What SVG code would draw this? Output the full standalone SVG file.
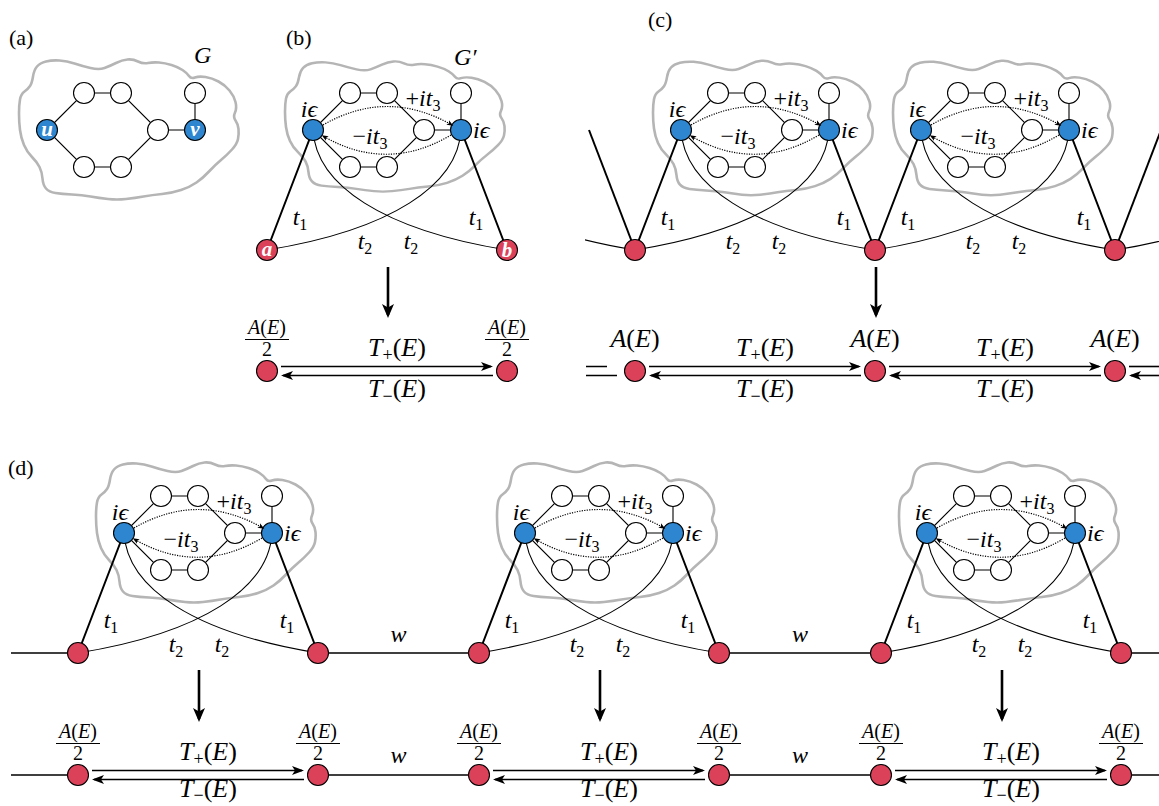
<svg xmlns="http://www.w3.org/2000/svg" xmlns:xlink="http://www.w3.org/1999/xlink" width="1159" height="806" viewBox="0 0 1159 806">
<style>
.cl{fill:none;stroke:#b5b5b5;stroke-width:2.6;stroke-linejoin:round}
.e{stroke:#000;stroke-width:1.1;fill:none}
.th{stroke:#000;stroke-width:2;fill:none}
.dt{stroke:#000;stroke-width:1.2;fill:none;stroke-dasharray:1.2 1.3}
.w{fill:#fff;stroke:#000;stroke-width:1.1}
.bl{fill:#2d86cf;stroke:#000;stroke-width:1.1}
.rd{fill:#dc415a;stroke:#000;stroke-width:1.1}
.ln{stroke:#000;stroke-width:1.6;fill:none}
.ar{stroke:#000;stroke-width:1.6;fill:none;marker-end:url(#ha)}
.dn{stroke:#000;stroke-width:2.6;fill:none;marker-end:url(#hd)}
.fb{stroke:#000;stroke-width:1}
text{font-family:"Liberation Serif","DejaVu Serif",serif;fill:#000}
.m{font-style:italic;font-size:24px}
.b{font-size:26px}
.f{font-size:20px}
.r{font-style:normal}
.s{font-style:normal;font-size:16px}
.s2{font-style:normal;font-size:18px}
.lab{font-size:22px}
.wl{fill:#fff;font-weight:bold;font-style:italic;font-size:21px}
</style>
<defs>
<marker id="ha" markerUnits="userSpaceOnUse" markerWidth="14" markerHeight="10" refX="10" refY="4.5" orient="auto" overflow="visible"><path d="M12,4.5 L0,0 L3,4.5 L0,9 Z" fill="#000"/></marker>
<marker id="hd" markerUnits="userSpaceOnUse" markerWidth="16" markerHeight="14" refX="11" refY="6" orient="auto" overflow="visible"><path d="M14,6 L0,0 L3.5,6 L0,12 Z" fill="#000"/></marker>
<marker id="hs" markerUnits="userSpaceOnUse" markerWidth="8" markerHeight="6" refX="5" refY="2.7" orient="auto" overflow="visible"><path d="M6.5,2.7 L0,0 L1.6,2.7 L0,5.4 Z" fill="#000"/></marker>
<clipPath id="clipc"><rect x="585" y="100" width="80" height="200"/></clipPath>
<path id="cloud" class="cl" d="M-17,-44 Q-15,-47 -14,-53.5 Q-13,-60 -10,-63.5 Q-7,-67 -1,-68.5 Q5,-70 12.5,-69.5 Q20,-69 27.5,-66.5 Q35,-64 43.5,-62 Q52,-60 57.5,-62 Q63,-64 69,-67 Q75,-70 80.5,-70.5 Q86,-71 91,-68.5 Q96,-66 101,-67 Q106,-68 112,-67.5 Q118,-67 124.5,-65 Q131,-63 135.5,-60 Q140,-57 142,-54 Q144,-51 148,-52.5 Q152,-54 158.5,-53 Q165,-52 171.5,-48.5 Q178,-45 182.5,-39.5 Q187,-34 188.5,-28 Q190,-22 188,-17.5 Q186,-13 188.5,-9.5 Q191,-6 191.5,-1 Q192,4 191,9 Q190,14 185,19.5 Q180,25 174,30 Q168,35 162,41.5 Q156,48 149.5,52.5 Q143,57 134,60 Q125,63 115,64 Q105,65 96.5,66.5 Q88,68 79,69 Q70,70 61,69 Q52,68 43.5,66.5 Q35,65 25,64.5 Q15,64 8.5,63 Q2,62 -1,58.5 Q-4,55 -4.5,48.5 Q-5,42 -7.5,37 Q-10,32 -15,27 Q-20,22 -23,15 Q-26,8 -27,0 Q-28,-8 -28,-16.5 Q-28,-25 -27,-30.5 Q-26,-36 -22.5,-38.5 Q-19,-41 -17,-44 Z"/>
<g id="graph">
<path class="e" d="M0,0 L37,-37 L74,-37 L111,0 L74,37 L37,37 Z M111,0 L148,0 L148,-37"/>
<circle class="w" cx="37" cy="-37" r="10.5"/>
<circle class="w" cx="74" cy="-37" r="10.5"/>
<circle class="w" cx="111" cy="0" r="10.5"/>
<circle class="w" cx="148" cy="-37" r="10.5"/>
<circle class="w" cx="37" cy="37" r="10.5"/>
<circle class="w" cx="74" cy="37" r="10.5"/>
<circle class="bl" cx="0" cy="0" r="10.5"/>
<circle class="bl" cx="148" cy="0" r="10.5"/>
</g>
<g id="links">
<path class="th" d="M0,0 L-46,120 M148,0 L194,120"/>
<path class="e" d="M0,0 C3,55 70,100 194,120 M148,0 C145,55 78,100 -46,120"/>
</g>
<g id="arcs">
<path class="dt" d="M10,-5 Q74,-42 139,-5" marker-end="url(#hs)"/>
<path class="dt" d="M138,5 Q74,43 10,6" marker-end="url(#hs)"/>
</g>
</defs>

<g id="panel-a">
<text class="lab" x="9" y="45">(a)</text>
<text class="m" x="194" y="63">G</text>
<g id="graph-G" transform="translate(47,130)">
<use href="#cloud"/><use href="#graph"/>
<text class="wl" x="0" y="5.5" text-anchor="middle">u</text>
<text class="wl" x="148" y="5.5" text-anchor="middle">v</text>
</g>
</g>

<g id="panel-b">
<text class="lab" x="286" y="45">(b)</text>
<text class="m" x="454" y="65">G′</text>
<g id="gadget-b" transform="translate(313,130)">
<use href="#cloud" transform="translate(0,-3) scale(1,0.93)"/><use href="#links"/><use href="#graph"/><use href="#arcs"/>
<text class="m" x="-4" y="-13" text-anchor="middle">iϵ</text>
<text class="m" x="160" y="8">iϵ</text>
<text class="m" x="110" y="-24" text-anchor="middle"><tspan class="r">+</tspan>it<tspan class="s" dy="5">3</tspan></text>
<text class="m" x="57" y="14" text-anchor="middle"><tspan class="r">−</tspan>it<tspan class="s" dy="5">3</tspan></text>
<text class="m" x="-13" y="95" text-anchor="middle">t<tspan class="s" dy="5">1</tspan></text>
<text class="m" x="163" y="95" text-anchor="middle">t<tspan class="s" dy="5">1</tspan></text>
<text class="m" x="52" y="119" text-anchor="middle">t<tspan class="s" dy="5">2</tspan></text>
<text class="m" x="98" y="119" text-anchor="middle">t<tspan class="s" dy="5">2</tspan></text>
</g>
<g id="node-a"><circle class="rd" cx="267" cy="250" r="10.5"/><text class="wl" x="267" y="256" text-anchor="middle">a</text></g>
<g id="node-b"><circle class="rd" cx="507" cy="250" r="10.5"/><text class="wl" x="507" y="257" text-anchor="middle">b</text></g>
</g>

<g id="connectors">
<path class="dn" d="M388,267 L388,315"/>
<path class="dn" d="M876,267 L876,315"/>
<path class="dn" d="M199,670 L199,719"/>
<path class="dn" d="M600,670 L600,719"/>
<path class="dn" d="M1002,670 L1002,719"/>
<path class="ar" d="M281,366.5 L491,366.5"/>
<path class="ar" d="M493,375.5 L283,375.5"/>
<path class="ln" d="M586,366.5 L607,366.5 M586,375.5 L617,375.5"/>
<path class="ar" d="M649,366.5 L859,366.5"/>
<path class="ar" d="M861,375.5 L651,375.5"/>
<path class="ar" d="M889,366.5 L1099,366.5"/>
<path class="ar" d="M1101,375.5 L891,375.5"/>
<path class="ln" d="M1129,366.5 L1159,366.5"/>
<path class="ar" d="M1160,375.5 L1131,375.5"/>
<path class="ln" d="M11,653 L78,653 M318,653 L479,653 M719,653 L881,653 M1121,653 L1159,653"/>
<path class="ln" d="M11,775 L78,775 M318,775 L479,775 M719,775 L881,775 M1121,775 L1159,775"/>
<path class="ar" d="M92,770.5 L302,770.5"/>
<path class="ar" d="M304,779.5 L94,779.5"/>
<path class="ar" d="M493,770.5 L703,770.5"/>
<path class="ar" d="M705,779.5 L495,779.5"/>
<path class="ar" d="M895,770.5 L1105,770.5"/>
<path class="ar" d="M1107,779.5 L897,779.5"/>
<g clip-path="url(#clipc)">
<path class="th" d="M589,130 L635,250"/>
<path class="e" d="M441,130 C444,185 511,230 635,250"/>
</g>
<path class="th" d="M1161,130 L1115,250"/>
<path class="e" d="M1309,130 C1306,185 1239,230 1115,250"/>
</g>

<g id="panel-b-bottom">
<g id="node-b1"><circle class="rd" cx="267" cy="371" r="10.5"/>
<text class="m f" x="267" y="334" text-anchor="middle">A<tspan class="r">(</tspan>E<tspan class="r">)</tspan></text>
<line class="fb" x1="245" y1="339.5" x2="289" y2="339.5"/>
<text class="f" x="267" y="356" text-anchor="middle">2</text></g>
<g id="node-b2"><circle class="rd" cx="507" cy="371" r="10.5"/>
<text class="m f" x="507" y="334" text-anchor="middle">A<tspan class="r">(</tspan>E<tspan class="r">)</tspan></text>
<line class="fb" x1="485" y1="339.5" x2="529" y2="339.5"/>
<text class="f" x="507" y="356" text-anchor="middle">2</text></g>
<text class="m b" x="397" y="356" text-anchor="middle">T<tspan class="s2" dy="5">+</tspan><tspan class="r" dy="-5">(</tspan>E<tspan class="r">)</tspan></text>
<text class="m b" x="397" y="397" text-anchor="middle">T<tspan class="s2" dy="5">−</tspan><tspan class="r" dy="-5">(</tspan>E<tspan class="r">)</tspan></text>
</g>

<g id="panel-c">
<text class="lab" x="648" y="27">(c)</text>
<g id="gadget-c1" transform="translate(681,130)">
<use href="#cloud" transform="translate(0,-1.5) scale(1,0.96)"/><use href="#links"/><use href="#graph"/><use href="#arcs"/>
<text class="m" x="-4" y="-13" text-anchor="middle">iϵ</text>
<text class="m" x="160" y="8">iϵ</text>
<text class="m" x="110" y="-24" text-anchor="middle"><tspan class="r">+</tspan>it<tspan class="s" dy="5">3</tspan></text>
<text class="m" x="57" y="14" text-anchor="middle"><tspan class="r">−</tspan>it<tspan class="s" dy="5">3</tspan></text>
<text class="m" x="-13" y="95" text-anchor="middle">t<tspan class="s" dy="5">1</tspan></text>
<text class="m" x="163" y="95" text-anchor="middle">t<tspan class="s" dy="5">1</tspan></text>
<text class="m" x="52" y="119" text-anchor="middle">t<tspan class="s" dy="5">2</tspan></text>
<text class="m" x="98" y="119" text-anchor="middle">t<tspan class="s" dy="5">2</tspan></text>
</g>
<g id="gadget-c2" transform="translate(921,130)">
<use href="#cloud" transform="translate(0,-1.5) scale(1,0.96)"/><use href="#links"/><use href="#graph"/><use href="#arcs"/>
<text class="m" x="-4" y="-13" text-anchor="middle">iϵ</text>
<text class="m" x="160" y="8">iϵ</text>
<text class="m" x="110" y="-24" text-anchor="middle"><tspan class="r">+</tspan>it<tspan class="s" dy="5">3</tspan></text>
<text class="m" x="57" y="14" text-anchor="middle"><tspan class="r">−</tspan>it<tspan class="s" dy="5">3</tspan></text>
<text class="m" x="-13" y="95" text-anchor="middle">t<tspan class="s" dy="5">1</tspan></text>
<text class="m" x="163" y="95" text-anchor="middle">t<tspan class="s" dy="5">1</tspan></text>
<text class="m" x="52" y="119" text-anchor="middle">t<tspan class="s" dy="5">2</tspan></text>
<text class="m" x="98" y="119" text-anchor="middle">t<tspan class="s" dy="5">2</tspan></text>
</g>
<g id="node-c1"><circle class="rd" cx="635" cy="250" r="10.5"/></g>
<g id="node-c2"><circle class="rd" cx="875" cy="250" r="10.5"/></g>
<g id="node-c3"><circle class="rd" cx="1115" cy="250" r="10.5"/></g>
<g id="node-c4"><circle class="rd" cx="635" cy="371" r="10.5"/><text class="m b" x="635" y="347" text-anchor="middle">A<tspan class="r">(</tspan>E<tspan class="r">)</tspan></text></g>
<g id="node-c5"><circle class="rd" cx="875" cy="371" r="10.5"/><text class="m b" x="875" y="347" text-anchor="middle">A<tspan class="r">(</tspan>E<tspan class="r">)</tspan></text></g>
<g id="node-c6"><circle class="rd" cx="1115" cy="371" r="10.5"/><text class="m b" x="1115" y="347" text-anchor="middle">A<tspan class="r">(</tspan>E<tspan class="r">)</tspan></text></g>
<text class="m b" x="765" y="356" text-anchor="middle">T<tspan class="s2" dy="5">+</tspan><tspan class="r" dy="-5">(</tspan>E<tspan class="r">)</tspan></text>
<text class="m b" x="765" y="397" text-anchor="middle">T<tspan class="s2" dy="5">−</tspan><tspan class="r" dy="-5">(</tspan>E<tspan class="r">)</tspan></text>
<text class="m b" x="1005" y="356" text-anchor="middle">T<tspan class="s2" dy="5">+</tspan><tspan class="r" dy="-5">(</tspan>E<tspan class="r">)</tspan></text>
<text class="m b" x="1005" y="397" text-anchor="middle">T<tspan class="s2" dy="5">−</tspan><tspan class="r" dy="-5">(</tspan>E<tspan class="r">)</tspan></text>
</g>

<g id="panel-d">
<text class="lab" x="8" y="475">(d)</text>
<g id="gadget-d1" transform="translate(124,533)">
<use href="#cloud"/><use href="#links"/><use href="#graph"/><use href="#arcs"/>
<text class="m" x="-4" y="-13" text-anchor="middle">iϵ</text>
<text class="m" x="160" y="8">iϵ</text>
<text class="m" x="110" y="-24" text-anchor="middle"><tspan class="r">+</tspan>it<tspan class="s" dy="5">3</tspan></text>
<text class="m" x="57" y="14" text-anchor="middle"><tspan class="r">−</tspan>it<tspan class="s" dy="5">3</tspan></text>
<text class="m" x="-13" y="95" text-anchor="middle">t<tspan class="s" dy="5">1</tspan></text>
<text class="m" x="163" y="95" text-anchor="middle">t<tspan class="s" dy="5">1</tspan></text>
<text class="m" x="52" y="119" text-anchor="middle">t<tspan class="s" dy="5">2</tspan></text>
<text class="m" x="98" y="119" text-anchor="middle">t<tspan class="s" dy="5">2</tspan></text>
</g>
<g id="gadget-d2" transform="translate(525,533)">
<use href="#cloud"/><use href="#links"/><use href="#graph"/><use href="#arcs"/>
<text class="m" x="-4" y="-13" text-anchor="middle">iϵ</text>
<text class="m" x="160" y="8">iϵ</text>
<text class="m" x="110" y="-24" text-anchor="middle"><tspan class="r">+</tspan>it<tspan class="s" dy="5">3</tspan></text>
<text class="m" x="57" y="14" text-anchor="middle"><tspan class="r">−</tspan>it<tspan class="s" dy="5">3</tspan></text>
<text class="m" x="-13" y="95" text-anchor="middle">t<tspan class="s" dy="5">1</tspan></text>
<text class="m" x="163" y="95" text-anchor="middle">t<tspan class="s" dy="5">1</tspan></text>
<text class="m" x="52" y="119" text-anchor="middle">t<tspan class="s" dy="5">2</tspan></text>
<text class="m" x="98" y="119" text-anchor="middle">t<tspan class="s" dy="5">2</tspan></text>
</g>
<g id="gadget-d3" transform="translate(927,533)">
<use href="#cloud"/><use href="#links"/><use href="#graph"/><use href="#arcs"/>
<text class="m" x="-4" y="-13" text-anchor="middle">iϵ</text>
<text class="m" x="160" y="8">iϵ</text>
<text class="m" x="110" y="-24" text-anchor="middle"><tspan class="r">+</tspan>it<tspan class="s" dy="5">3</tspan></text>
<text class="m" x="57" y="14" text-anchor="middle"><tspan class="r">−</tspan>it<tspan class="s" dy="5">3</tspan></text>
<text class="m" x="-13" y="95" text-anchor="middle">t<tspan class="s" dy="5">1</tspan></text>
<text class="m" x="163" y="95" text-anchor="middle">t<tspan class="s" dy="5">1</tspan></text>
<text class="m" x="52" y="119" text-anchor="middle">t<tspan class="s" dy="5">2</tspan></text>
<text class="m" x="98" y="119" text-anchor="middle">t<tspan class="s" dy="5">2</tspan></text>
</g>
<g id="node-d1"><circle class="rd" cx="78" cy="653" r="10.5"/></g>
<g id="node-d2"><circle class="rd" cx="318" cy="653" r="10.5"/></g>
<g id="node-d3"><circle class="rd" cx="479" cy="653" r="10.5"/></g>
<g id="node-d4"><circle class="rd" cx="719" cy="653" r="10.5"/></g>
<g id="node-d5"><circle class="rd" cx="881" cy="653" r="10.5"/></g>
<g id="node-d6"><circle class="rd" cx="1121" cy="653" r="10.5"/></g>
<text class="m" x="398.5" y="641.5" text-anchor="middle">w</text>
<text class="m" x="800" y="641.5" text-anchor="middle">w</text>
<text class="m" x="398.5" y="763" text-anchor="middle">w</text>
<text class="m" x="800" y="763" text-anchor="middle">w</text>
<g id="node-d7"><circle class="rd" cx="78" cy="775" r="10.5"/><text class="m f" x="78" y="738" text-anchor="middle">A<tspan class="r">(</tspan>E<tspan class="r">)</tspan></text><line class="fb" x1="56" y1="743.5" x2="100" y2="743.5"/><text class="f" x="78" y="760" text-anchor="middle">2</text></g>
<g id="node-d8"><circle class="rd" cx="318" cy="775" r="10.5"/><text class="m f" x="318" y="738" text-anchor="middle">A<tspan class="r">(</tspan>E<tspan class="r">)</tspan></text><line class="fb" x1="296" y1="743.5" x2="340" y2="743.5"/><text class="f" x="318" y="760" text-anchor="middle">2</text></g>
<g id="node-d9"><circle class="rd" cx="479" cy="775" r="10.5"/><text class="m f" x="479" y="738" text-anchor="middle">A<tspan class="r">(</tspan>E<tspan class="r">)</tspan></text><line class="fb" x1="457" y1="743.5" x2="501" y2="743.5"/><text class="f" x="479" y="760" text-anchor="middle">2</text></g>
<g id="node-d10"><circle class="rd" cx="719" cy="775" r="10.5"/><text class="m f" x="719" y="738" text-anchor="middle">A<tspan class="r">(</tspan>E<tspan class="r">)</tspan></text><line class="fb" x1="697" y1="743.5" x2="741" y2="743.5"/><text class="f" x="719" y="760" text-anchor="middle">2</text></g>
<g id="node-d11"><circle class="rd" cx="881" cy="775" r="10.5"/><text class="m f" x="881" y="738" text-anchor="middle">A<tspan class="r">(</tspan>E<tspan class="r">)</tspan></text><line class="fb" x1="859" y1="743.5" x2="903" y2="743.5"/><text class="f" x="881" y="760" text-anchor="middle">2</text></g>
<g id="node-d12"><circle class="rd" cx="1121" cy="775" r="10.5"/><text class="m f" x="1121" y="738" text-anchor="middle">A<tspan class="r">(</tspan>E<tspan class="r">)</tspan></text><line class="fb" x1="1099" y1="743.5" x2="1143" y2="743.5"/><text class="f" x="1121" y="760" text-anchor="middle">2</text></g>
<text class="m b" x="208" y="760" text-anchor="middle">T<tspan class="s2" dy="5">+</tspan><tspan class="r" dy="-5">(</tspan>E<tspan class="r">)</tspan></text>
<text class="m b" x="208" y="797" text-anchor="middle">T<tspan class="s2" dy="4">−</tspan><tspan class="r" dy="-4">(</tspan>E<tspan class="r">)</tspan></text>
<text class="m b" x="609" y="760" text-anchor="middle">T<tspan class="s2" dy="5">+</tspan><tspan class="r" dy="-5">(</tspan>E<tspan class="r">)</tspan></text>
<text class="m b" x="609" y="797" text-anchor="middle">T<tspan class="s2" dy="4">−</tspan><tspan class="r" dy="-4">(</tspan>E<tspan class="r">)</tspan></text>
<text class="m b" x="1011" y="760" text-anchor="middle">T<tspan class="s2" dy="5">+</tspan><tspan class="r" dy="-5">(</tspan>E<tspan class="r">)</tspan></text>
<text class="m b" x="1011" y="797" text-anchor="middle">T<tspan class="s2" dy="4">−</tspan><tspan class="r" dy="-4">(</tspan>E<tspan class="r">)</tspan></text>
</g>
</svg>
